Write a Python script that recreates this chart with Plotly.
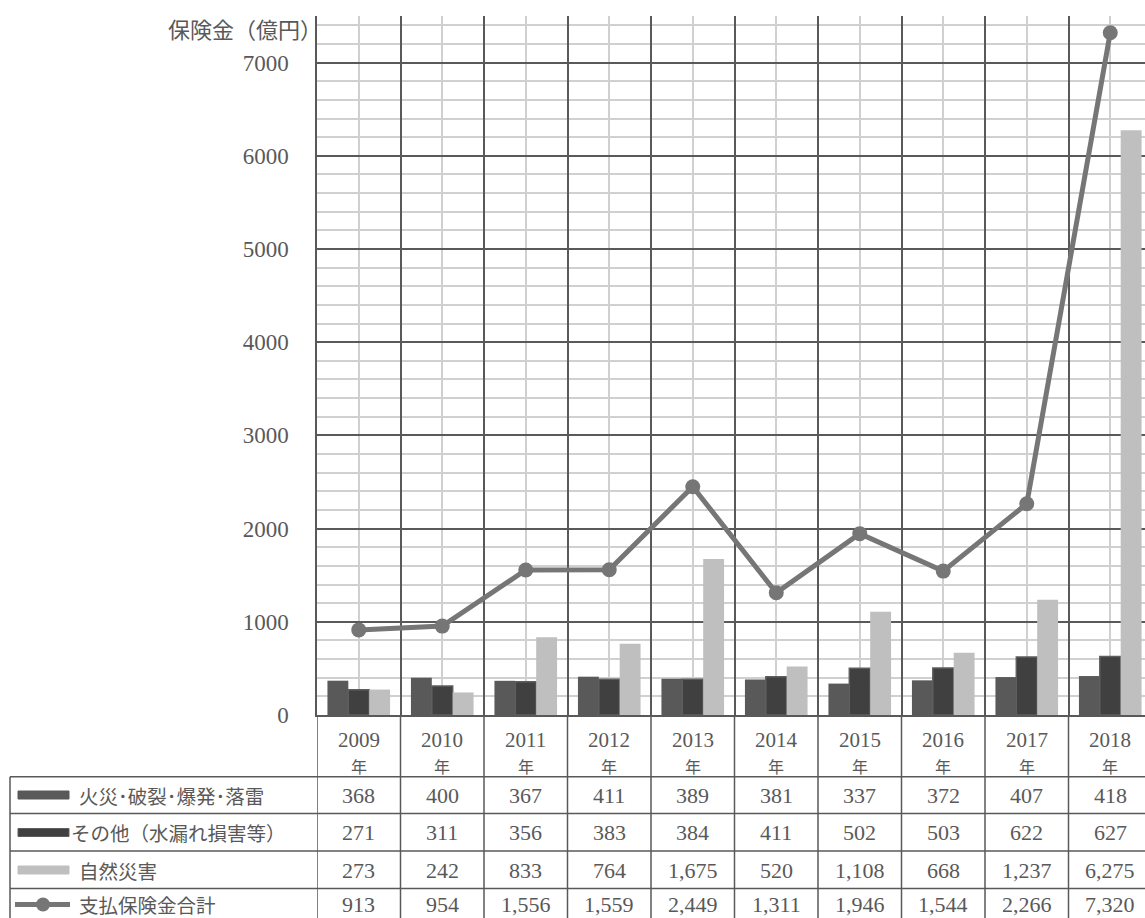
import plotly.graph_objects as go

years = ["2009", "2010", "2011", "2012", "2013", "2014", "2015", "2016", "2017", "2018"]
fire = [368, 400, 367, 411, 389, 381, 337, 372, 407, 418]
other = [271, 311, 356, 383, 384, 411, 502, 503, 622, 627]
natural = [273, 242, 833, 764, 1675, 520, 1108, 668, 1237, 6275]
total = [913, 954, 1556, 1559, 2449, 1311, 1946, 1544, 2266, 7320]
series_names = ["火災･破裂･爆発･落雷", "その他（水漏れ損害等）", "自然災害", "支払保険金合計"]
y_title = "保険金（億円）"
year_suffix = "年"

W, H = 1145, 918
L, T, B = 317, 16, 203
PW, PH = W - L, H - T - B
CAT = 83.5
XMAX = -0.5 + PW / CAT

DARK = "#595959"
LIGHT = "#D0D0D0"
TXT = "#595959"
SERIF = "Liberation Serif"
JP = "Noto Sans CJK JP"

def px(x):
    return (x - L) / PW

def py(y):
    return (T + PH - y) / PH

xs = list(range(len(years)))
fig = go.Figure()
fig.add_bar(x=xs, y=fire, name=series_names[0], marker=dict(color="#595959", line=dict(width=0)))
fig.add_bar(x=xs, y=other, name=series_names[1], marker=dict(color="#404040", line=dict(color="#5E5E5E", width=1.5)))
fig.add_bar(x=xs, y=natural, name=series_names[2], marker=dict(color="#BFBFBF", line=dict(width=0)))
fig.add_scatter(x=xs, y=total, name=series_names[3], mode="lines+markers",
                line=dict(color="#767676", width=5), marker=dict(color="#767676", size=15))

shapes = []
annotations = []
line_dark = dict(color=DARK, width=1.5)

row_lines = [776.7, 813.5, 851, 888.5]
bottom = H + 5
for k in range(len(years) + 1):
    shapes.append(dict(type="line", xref="x", yref="paper", x0=-0.5 + k, x1=-0.5 + k,
                       y0=0, y1=py(bottom), line=line_dark, layer="above"))
shapes.append(dict(type="line", xref="paper", yref="paper", x0=px(10), x1=px(10),
                   y0=py(row_lines[0]), y1=py(bottom), line=line_dark))
for yl in row_lines:
    shapes.append(dict(type="line", xref="paper", yref="paper", x0=px(10), x1=1,
                       y0=py(yl), y1=py(yl), line=line_dark))

for i, yr in enumerate(years):
    annotations.append(dict(x=i, y=py(740), xref="x", yref="paper", text=yr, showarrow=False,
                            font=dict(family=SERIF, size=21, color=TXT), xanchor="center", yanchor="middle"))
    annotations.append(dict(x=i, y=py(766), xref="x", yref="paper", text=year_suffix, showarrow=False,
                            font=dict(family=JP, size=16, color=TXT), xanchor="center", yanchor="middle"))

row_centers = [795, 832.5, 870, 904.5]
rows = [fire, other, natural, total]
for r, vals in enumerate(rows):
    for i, v in enumerate(vals):
        annotations.append(dict(x=i, y=py(row_centers[r]), xref="x", yref="paper", text=f"{v:,}",
                                showarrow=False, font=dict(family=SERIF, size=22, color=TXT),
                                xanchor="center", yanchor="middle"))
    annotations.append(dict(x=px(77 if r != 1 else 69), y=py(row_centers[r]), xref="paper", yref="paper",
                            text=series_names[r], showarrow=False,
                            font=dict(family=JP, size=19.5, color=TXT), xanchor="left", yanchor="middle"))

sw_cols = ["#595959", "#404040", "#BFBFBF"]
for r in range(3):
    shapes.append(dict(type="rect", xref="paper", yref="paper", x0=px(18), x1=px(69),
                       y0=py(row_centers[r] - 4), y1=py(row_centers[r] + 4),
                       fillcolor=sw_cols[r], line=dict(color="#5E5E5E" if r == 1 else sw_cols[r], width=1)))
shapes.append(dict(type="line", xref="paper", yref="paper", x0=px(15), x1=px(70),
                   y0=py(row_centers[3]), y1=py(row_centers[3]), line=dict(color="#767676", width=5)))
shapes.append(dict(type="circle", xref="paper", yref="paper", x0=px(36), x1=px(50),
                   y0=py(row_centers[3] - 7), y1=py(row_centers[3] + 7),
                   fillcolor="#767676", line=dict(color="#767676", width=0)))

annotations.append(dict(x=px(324), y=py(28), xref="paper", yref="paper", text=y_title, showarrow=False,
                        font=dict(family=JP, size=22, color=TXT), xanchor="right", yanchor="middle"))

fig.update_layout(
    width=W, height=H, margin=dict(l=L, r=0, t=T, b=B, pad=0),
    paper_bgcolor="white", plot_bgcolor="white",
    barmode="group", bargap=0.25, bargroupgap=0,
    showlegend=False,
    shapes=shapes, annotations=annotations,
    xaxis=dict(range=[-0.5, XMAX], tickmode="linear", tick0=-0.5, dtick=1,
               showticklabels=False, ticks="", showgrid=True, gridcolor=DARK, gridwidth=1.5,
               minor=dict(tickmode="linear", tick0=-0.5, dtick=0.5, showgrid=True, gridcolor=LIGHT, gridwidth=1.5),
               zeroline=False, showline=True, linecolor=DARK, linewidth=2),
    yaxis=dict(range=[0, 7500], tickmode="linear", tick0=0, dtick=1000,
               showgrid=True, gridcolor=DARK, gridwidth=1.5,
               minor=dict(tickmode="linear", tick0=0, dtick=200, showgrid=True, gridcolor=LIGHT, gridwidth=1.5),
               zeroline=False, showline=True, linecolor=DARK, linewidth=1.5,
               ticks="", ticklabelstandoff=22,
               tickfont=dict(family=SERIF, size=23, color=TXT)),
)

fig.write_html("out.html")
